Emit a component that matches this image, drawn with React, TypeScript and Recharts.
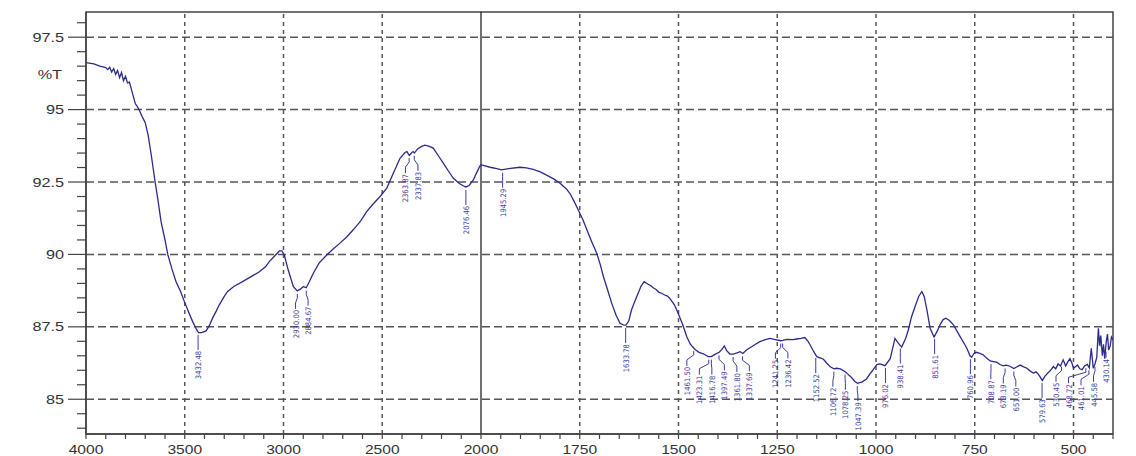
import React from 'react';
import { ComposedChart, Line, XAxis, YAxis, ReferenceLine, ReferenceArea, ReferenceDot, Scatter } from 'recharts';

// ---------- data ----------
const wavenumbers = [
  4000, 3960, 3930, 3900, 3890, 3880, 3870, 3860, 3850, 3840, 3830, 3820, 3810, 3800, 3790, 3780, 3770, 3760, 3750,
  3740, 3730, 3715, 3700, 3685, 3670, 3650, 3635, 3620, 3600, 3586, 3565, 3544, 3520, 3502, 3480, 3460, 3440, 3430,
  3415, 3392, 3375, 3359, 3340, 3325, 3300, 3283, 3250, 3207, 3160, 3122, 3090, 3072, 3040, 3021, 3008, 2996, 2976,
  2950, 2930, 2915, 2899, 2885, 2870, 2849, 2820, 2781, 2750, 2714, 2680, 2647, 2610, 2579, 2545, 2511, 2477, 2444,
  2410, 2385, 2375, 2363, 2350, 2343, 2337, 2320, 2300, 2284, 2265, 2242, 2220, 2191, 2165, 2140, 2110, 2090, 2076,
  2060, 2039, 2020, 2005, 2000,
  1990, 1977, 1960, 1948, 1930, 1901, 1885, 1868, 1850, 1834, 1815, 1800, 1785, 1775, 1765, 1754, 1742, 1732, 1720,
  1707, 1698, 1690, 1680, 1669, 1658, 1648, 1640, 1633, 1626, 1619, 1610, 1602, 1595, 1587, 1578, 1570, 1564, 1556,
  1550, 1543, 1535, 1528, 1522, 1510, 1501, 1490, 1479, 1470, 1458, 1448, 1437, 1425, 1417, 1408, 1397, 1390, 1384,
  1378, 1370, 1361, 1352, 1344, 1337, 1328, 1319, 1305, 1294, 1280, 1268, 1255, 1241, 1236, 1226, 1210, 1201, 1190,
  1180, 1172, 1167, 1158, 1150, 1140, 1133, 1125, 1116, 1106, 1100, 1090, 1078, 1070, 1062, 1054, 1047, 1035, 1024,
  1015, 1007, 998, 990, 977, 964, 952, 943, 935, 925, 918, 910, 901, 892, 884, 878, 871, 863, 853, 845, 838, 830, 823,
  814, 804, 795, 787, 778, 770, 762, 758, 752, 746, 737, 728, 720, 711, 703, 695, 686, 678, 670, 661, 651, 643, 635,
  626, 618, 610, 601, 595, 590, 585, 579, 572, 564, 558, 551, 545, 539, 533, 526, 520, 514, 509, 504, 500, 495, 490,
  484, 478, 472, 465, 460, 455, 450, 446, 441, 437, 434, 431, 427, 424, 421, 417, 414, 411, 407, 404, 400,
];

const transmittance = [
  96.62, 96.58, 96.5, 96.45, 96.38, 96.46, 96.3, 96.42, 96.22, 96.35, 96.1, 96.28, 96.0, 96.15, 95.92, 95.95, 95.7, 95.45, 95.2,
  95.1, 94.98, 94.75, 94.55, 94.1, 93.45, 92.5, 91.85, 91.13, 90.5, 90.0, 89.5, 89.06, 88.7, 88.37, 88.0, 87.68, 87.4, 87.3,
  87.3, 87.36, 87.55, 87.8, 88.05, 88.26, 88.55, 88.72, 88.9, 89.06, 89.25, 89.4, 89.58, 89.75, 89.98, 90.12, 90.12, 89.98, 89.46,
  88.89, 88.74, 88.8, 88.89, 88.85, 89.05, 89.35, 89.7, 89.98, 90.18, 90.39, 90.6, 90.85, 91.15, 91.48, 91.75, 92.0, 92.29, 92.8,
  93.32, 93.52, 93.55, 93.42, 93.52, 93.55, 93.5, 93.65, 93.73, 93.77, 93.74, 93.67, 93.45, 93.15, 92.88, 92.63, 92.45, 92.37, 92.33,
  92.38, 92.57, 92.85, 93.06, 93.1,
  93.06, 93.01, 92.96, 92.92, 92.96, 93.01, 92.99, 92.94, 92.85, 92.74, 92.6, 92.46, 92.28, 92.11, 91.85, 91.54, 91.2, 90.85, 90.45,
  90.04, 89.65, 89.23, 88.8, 88.31, 87.9, 87.62, 87.57, 87.56, 87.7, 88.08, 88.4, 88.66, 88.9, 89.06, 88.98, 88.92, 88.85, 88.78,
  88.7, 88.66, 88.6, 88.56, 88.48, 88.25, 87.97, 87.6, 87.16, 86.9, 86.72, 86.62, 86.57, 86.47, 86.47, 86.55, 86.62, 86.72, 86.84,
  86.68, 86.56, 86.56, 86.6, 86.64, 86.58, 86.7, 86.78, 86.9, 86.99, 87.06, 87.1, 87.06, 87.02, 87.03, 87.07, 87.06, 87.08, 87.1,
  87.13, 87.0, 86.88, 86.65, 86.47, 86.42, 86.38, 86.25, 86.12, 86.05, 86.07, 86.05, 85.95, 85.85, 85.75, 85.62, 85.55, 85.6, 85.7,
  85.88, 86.02, 86.2, 86.22, 86.16, 86.4, 87.1, 86.93, 86.8, 87.1, 87.4, 87.85, 88.2, 88.55, 88.72, 88.55, 88.08, 87.45, 87.15, 87.35, 87.57, 87.75, 87.8,
  87.72, 87.57, 87.35, 87.16, 86.95, 86.76, 86.5, 86.45, 86.58, 86.62, 86.58, 86.53, 86.42, 86.32, 86.3, 86.28, 86.2, 86.15, 86.18, 86.14, 86.06, 86.12, 86.18,
  86.12, 86.07, 85.98, 85.9, 85.95, 85.88, 85.78, 85.65, 85.8, 85.92, 86.0, 86.13, 86.05, 86.22, 86.15, 86.36, 86.15, 86.3, 86.4, 86.25, 86.07, 86.12, 86.18,
  86.05, 86.02, 86.15, 86.2, 86.08, 86.76, 86.07, 86.2, 86.45, 87.45, 86.85, 87.2, 86.5, 86.9, 86.4, 87.0, 87.25, 86.7, 86.85, 87.15, 87.05,
];

const peakLabels = [
  3432.48, 2930.0, 2884.67, 2363.87, 2337.83, 2076.46, 1945.29, 1633.78, 1461.5, 1423.31, 1416.78, 1397.49, 1361.8,
  1337.69, 1241.25, 1236.42, 1152.52, 1106.72, 1078.25, 1047.39, 976.02, 938.41, 851.61, 760.96, 708.87, 673.19,
  651.0, 579.63, 530.45, 468.72, 461.01, 445.58, 430.14,
];

const xMajorLabels = [4000, 3500, 3000, 2500, 2000, 1750, 1500, 1250, 1000, 750, 500];
const xGridLabels = [3500, 3000, 2500, 1750, 1500, 1250, 1000, 750, 500];
const yTicks = [
  84, 84.5, 85, 85.5, 86, 86.5, 87, 87.5, 88, 88.5, 89, 89.5, 90, 90.5, 91, 91.5, 92, 92.5, 93, 93.5, 94, 94.5, 95,
  95.5, 96, 96.5, 97, 97.5, 98,
];
const yMajorLabels = [85, 87.5, 90, 92.5, 95, 97.5];

// ---------- layout ----------
const W = 1136;
const H = 456;
const MARGIN = { top: 12, right: 23, bottom: 0, left: 0 };
const Y_AXIS_W = 86;
const X_AXIS_H = 22;
const PLOT_W = W - Y_AXIS_W - MARGIN.right;
const Y_MIN = 83.8;
const Y_MAX = 98.37;

// Spectrometer axis: scale doubles below 2000 cm-1
const toU = (w: number) => (w >= 2000 ? w : 2 * w - 2000);
const fromU = (u: number) => (u >= 2000 ? u : (u + 2000) / 2);
const U_MIN = toU(400);
const U_MAX = toU(4000);
const PX_PER_U = PLOT_W / (U_MAX - U_MIN);

const xTicks: number[] = [];
for (let u = U_MAX; u >= U_MIN; u -= 100) xTicks.push(u);

const data = wavenumbers.map((w, i) => ({ u: toU(w), t: transmittance[i] }));

function interpT(w: number) {
  for (let i = 0; i < wavenumbers.length - 1; i++) {
    const a = wavenumbers[i];
    const b = wavenumbers[i + 1];
    if (w <= a && w >= b) {
      const f = (a - w) / (a - b);
      return transmittance[i] + f * (transmittance[i + 1] - transmittance[i]);
    }
  }
  return transmittance[transmittance.length - 1];
}

const annotations = (() => {
  const items = peakLabels.map((w) => ({
    w,
    u: toU(w),
    t: interpT(w),
    label: w.toFixed(2),
    px: (U_MAX - toU(w)) * PX_PER_U,
  }));
  const pos = items.map((it) => it.px);
  const GAP = 12.5;
  for (let iter = 0; iter < 300; iter++) {
    for (let i = 0; i < pos.length - 1; i++) {
      const d = pos[i + 1] - pos[i];
      if (d < GAP) {
        const s = (GAP - d) / 2;
        pos[i] -= s;
        pos[i + 1] += s;
      }
    }
    pos[pos.length - 1] = Math.min(pos[pos.length - 1], PLOT_W - 7);
  }
  return items.map((it, i) => ({ ...it, dx: pos[i] - it.px }));
})();

const AXIS_COLOR = '#444';
const GRID_COLOR = '#555';
const LINE_COLOR = '#2a2a8e';
const ANN_COLOR = '#3a3aa0';
const LABEL_FONT = '"Liberation Sans", Arial, sans-serif';

const XTick = (props: any) => {
  const { x, y, payload } = props;
  const u = payload.value;
  const major = Math.abs(u % 500) < 1e-6;
  return (
    <g>
      <line x1={x} x2={x} y1={y} y2={y + 5} stroke={AXIS_COLOR} strokeWidth={1.2} />
      {major && (
        <text
          transform={`translate(${x},${y + 20}) scale(1.25,1)`}
          textAnchor="middle"
          fontSize={12.5}
          fontFamily={LABEL_FONT}
          fill="#333"
        >
          {fromU(u)}
        </text>
      )}
    </g>
  );
};

const YTick = (props: any) => {
  const { x, y, payload } = props;
  const v = payload.value;
  const major = yMajorLabels.some((m) => Math.abs(m - v) < 1e-6);
  const len = major ? 18 : 9;
  return (
    <g>
      <line x1={x - len} x2={x} y1={y} y2={y} stroke={AXIS_COLOR} strokeWidth={1.2} />
      {major && (
        <text
          transform={`translate(${x - 22},${y + 4.5}) scale(1.3,1)`}
          textAnchor="end"
          fontSize={12.5}
          fontFamily={LABEL_FONT}
          fill="#333"
        >
          {v}
        </text>
      )}
    </g>
  );
};

const PeakMark = (props: any) => {
  const { cx, cy, payload } = props;
  if (cx == null || cy == null || !payload) return null;
  const lx = cx + payload.dx;
  const top = cy + 19;
  const pts = `${cx},${cy + 3} ${cx},${cy + 7} ${lx},${cy + 12} ${lx},${top - 1}`;
  return (
    <g>
      <polyline points={pts} fill="none" stroke={ANN_COLOR} strokeWidth={1} />
      <text
        transform={`translate(${lx + 3},${top}) rotate(-90)`}
        textAnchor="end"
        fontSize={7.6}
        fontFamily='"DejaVu Sans Condensed", "DejaVu Sans", sans-serif'
        fill={ANN_COLOR}
      >
        {payload.label}
      </text>
    </g>
  );
};

const UnitLabel = (props: any) => {
  const { cx, cy } = props;
  if (cx == null || cy == null) return null;
  return (
    <text
      transform={`translate(${cx - 24},${cy + 4.5}) scale(1.3,1)`}
      textAnchor="end"
      fontSize={12.5}
      fontFamily={LABEL_FONT}
      fill="#333"
    >
      %T
    </text>
  );
};

export default function App() {
  return (
    <div style={{ position: 'absolute', left: 0, top: 0, background: '#fff' }}>
      <ComposedChart width={W} height={H} data={data} margin={MARGIN}>
        <XAxis
          dataKey="u"
          type="number"
          domain={[U_MIN, U_MAX]}
          reversed
          ticks={xTicks}
          interval={0}
          tick={<XTick />}
          tickLine={false}
          tickSize={0}
          tickMargin={0}
          height={X_AXIS_H}
          axisLine={{ stroke: AXIS_COLOR, strokeWidth: 1.5 }}
          allowDataOverflow
        />
        <YAxis
          dataKey="t"
          type="number"
          domain={[Y_MIN, Y_MAX]}
          ticks={yTicks}
          interval={0}
          tick={<YTick />}
          tickLine={false}
          tickSize={0}
          tickMargin={0}
          width={Y_AXIS_W}
          axisLine={{ stroke: AXIS_COLOR, strokeWidth: 1.5 }}
          allowDataOverflow
        />
        {yMajorLabels.map((v) => (
          <ReferenceLine key={`h${v}`} y={v} stroke={GRID_COLOR} strokeWidth={1.5} strokeDasharray="8 4" />
        ))}
        {xGridLabels.map((w) => (
          <ReferenceLine key={`v${w}`} x={toU(w)} stroke={GRID_COLOR} strokeWidth={1.5} strokeDasharray="4 4" />
        ))}
        <ReferenceLine x={toU(2000)} stroke="#111" strokeWidth={1.2} />
        <ReferenceArea x1={U_MIN} x2={U_MAX} y1={Y_MIN} y2={Y_MAX} fill="none" fillOpacity={0} stroke={AXIS_COLOR} strokeWidth={1.5} />
        <ReferenceDot x={U_MAX} y={96.2} r={0} shape={<UnitLabel />} ifOverflow="visible" />
        <Line
          type="linear"
          dataKey="t"
          stroke={LINE_COLOR}
          strokeWidth={1.3}
          dot={false}
          activeDot={false}
          isAnimationActive={false}
        />
        <Scatter data={annotations} dataKey="t" shape={<PeakMark />} isAnimationActive={false} />
      </ComposedChart>
    </div>
  );
}
